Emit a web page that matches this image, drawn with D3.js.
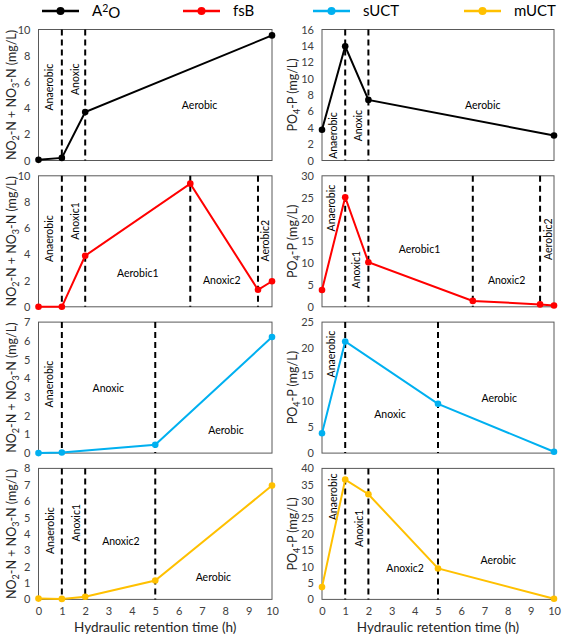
<!DOCTYPE html>
<html>
<head>
<meta charset="utf-8">
<script src="https://cdn.jsdelivr.net/npm/d3@7"></script>
<style>
  body { margin: 0; background: #fff; }
  svg text { font-family: Lato, "Liberation Sans", sans-serif; }
</style>
</head>
<body>
<svg id="chart" width="567" height="640"></svg>
<script>
// --- data
const seriesNames = ['A²O', 'fsB', 'sUCT', 'mUCT']
const seriesColors = ['#000000', '#ff0000', '#00b0f0', '#ffc000']

const a2oTime = [0, 1, 2, 10]
const a2oNOx = [0.05, 0.2, 3.7, 9.55]
const a2oPO4 = [3.75, 13.95, 7.4, 3.05]
const a2oPhases = [1, 2]

const fsbTime = [0, 1, 2, 6.5, 9.4, 10]
const fsbNOx = [0, 0, 3.9, 9.4, 1.3, 1.95]
const fsbPO4 = [3.85, 25.1, 10.2, 1.35, 0.55, 0.3]
const fsbPhases = [1, 2, 6.5, 9.4]

const suctTime = [0, 1, 5, 10]
const suctNOx = [0, 0.03, 0.45, 6.2]
const suctPO4 = [3.8, 21.3, 9.4, 0.25]
const suctPhases = [1, 5]

const muctTime = [0, 1, 2, 5, 10]
const muctNOx = [0.05, 0.03, 0.16, 1.15, 6.95]
const muctPO4 = [3.75, 36.6, 32.1, 9.45, 0.2]
const muctPhases = [1, 2, 5]

const nMax = [10, 10, 7, 8]
const nStep = [2, 2, 1, 1]
const pMax = [16, 30, 25, 40]
const pStep = [2, 5, 5, 5]
const xTicks = [0, 1, 2, 3, 4, 5, 6, 7, 8, 9, 10]

// phase labels: [text, hour, value, rotated]
const a2oNLabels = [['Anaerobic', 0.47, 5.6, 1], ['Anoxic', 1.56, 6.2, 1], ['Aerobic', 6.9, 4.25, 0]]
const a2oPLabels = [['Anaerobic', 0.49, 3.05, 1], ['Anoxic', 1.56, 4.26, 1], ['Aerobic', 6.93, 6.75, 0]]
const fsbNLabels = [['Anaerobic', 0.47, 5.2, 1], ['Anoxic1', 1.56, 6.55, 1], ['Aerobic1', 4.25, 2.57, 0],
  ['Anoxic2', 7.85, 2.0, 0], ['Aerobic2', 9.73, 5.04, 1]]
const fsbPLabels = [['Anaerobic', 0.42, 22.6, 1], ['Anoxic1', 1.5, 8.5, 1], ['Aerobic1', 4.2, 13.2, 0],
  ['Anoxic2', 7.96, 6.0, 0], ['Aerobic2', 9.75, 15.5, 1]]
const suctNLabels = [['Anaerobic', 0.46, 3.69, 1], ['Anoxic', 2.99, 3.46, 0], ['Aerobic', 8.03, 1.22, 0]]
const suctPLabels = [['Anaerobic', 0.39, 18.9, 1], ['Anoxic', 2.93, 7.44, 0], ['Aerobic', 7.64, 10.4, 0]]
const muctNLabels = [['Anaerobic', 0.49, 4.2, 1], ['Anoxic1', 1.63, 4.68, 1], ['Anoxic2', 3.53, 3.54, 0],
  ['Aerobic', 7.49, 1.34, 0]]
const muctPLabels = [['Anaerobic', 0.49, 31.3, 1], ['Anoxic1', 1.6, 21.7, 1], ['Anoxic2', 3.58, 9.5, 0],
  ['Aerobic', 7.6, 12, 0]]

const times = [a2oTime, fsbTime, suctTime, muctTime]
const nVals = [a2oNOx, fsbNOx, suctNOx, muctNOx]
const pVals = [a2oPO4, fsbPO4, suctPO4, muctPO4]
const phases = [a2oPhases, fsbPhases, suctPhases, muctPhases]
const nLabels = [a2oNLabels, fsbNLabels, suctNLabels, muctNLabels]
const pLabels = [a2oPLabels, fsbPLabels, suctPLabels, muctPLabels]

// --- layout
const svg = d3.select('#chart')
const rowTop = (i) => 29.5 + i * 146.3
const panelH = 131
const cols = [{x0: 38.5, x1: 272}, {x0: 322, x1: 554}]
const tickColor = '#404040'

// subscripted axis titles: shift down for a subscript, back up after it
const addSub = (text, parts) => {
  let shifted = false
  parts.forEach(([s, sub]) => {
    const t = text.append('tspan').text(s)
    if (sub) {
      t.attr('font-size', 9).attr('dy', 3)
      shifted = true
    } else if (shifted) {
      t.attr('dy', -3)
      shifted = false
    }
  })
}

const drawPanel = (row, col) => {
  const {x0, x1} = cols[col]
  const top = rowTop(row)
  const bottom = top + panelH
  const ymax = col === 0 ? nMax[row] : pMax[row]
  const step = col === 0 ? nStep[row] : pStep[row]
  const vals = col === 0 ? nVals[row] : pVals[row]
  const labels = col === 0 ? nLabels[row] : pLabels[row]
  const color = seriesColors[row]

  const x = d3.scaleLinear().domain([0, 10]).range([x0, x1])
  const y = d3.scaleLinear().domain([0, ymax]).range([bottom, top])
  const g = svg.append('g')

  // frame
  g.append('rect')
    .attr('x', x0).attr('y', top)
    .attr('width', x1 - x0).attr('height', panelH)
    .attr('fill', 'none').attr('stroke', '#595959').attr('stroke-width', 1)

  // y axis
  const yAxis = g.append('g')
    .attr('transform', `translate(${x0},0)`)
    .call(d3.axisLeft(y)
      .tickValues(d3.range(0, ymax + step / 2, step))
      .tickFormat(d3.format('d'))
      .tickSize(0).tickPadding(8))
  yAxis.select('.domain').remove()
  yAxis.selectAll('text').attr('font-size', 11).attr('fill', tickColor)

  // x axis only under the bottom row
  if (row === 3) {
    const xAxis = g.append('g')
      .attr('transform', `translate(0,${bottom})`)
      .call(d3.axisBottom(x).tickValues(xTicks).tickFormat(d3.format('d')).tickSize(0).tickPadding(8))
    xAxis.select('.domain').remove()
    xAxis.selectAll('text').attr('font-size', 11).attr('fill', tickColor)
    g.append('text')
      .attr('x', (x0 + x1) / 2).attr('y', 632)
      .attr('text-anchor', 'middle').attr('font-size', 13.5).attr('fill', '#262626')
      .text('Hydraulic retention time (h)')
  }

  // y title
  const title = g.append('text')
    .attr('transform', `translate(${col === 0 ? 16 : 297},${(top + bottom) / 2}) rotate(-90)`)
    .attr('text-anchor', 'middle').attr('font-size', 12.5).attr('fill', '#262626')
  if (col === 0) addSub(title, [['NO'], ['2', 1], ['-N + NO'], ['3', 1], ['-N (mg/L)']])
  else addSub(title, [['PO'], ['4', 1], ['-P (mg/L)']])

  // phase boundaries
  g.selectAll('.phase')
    .data(phases[row])
    .join('line')
    .attr('x1', (d) => x(d)).attr('x2', (d) => x(d))
    .attr('y1', top).attr('y2', bottom)
    .attr('stroke', '#000').attr('stroke-width', 2)
    .attr('stroke-dasharray', '6,4')

  // phase names
  g.selectAll('.lab')
    .data(labels)
    .join('text')
    .attr('transform', (d) => `translate(${x(d[1])},${y(d[2])})` + (d[3] ? ' rotate(-90)' : ''))
    .attr('text-anchor', 'middle').attr('dy', '0.35em')
    .attr('font-size', 10.5).attr('fill', '#000')
    .text((d) => d[0])

  // series
  const pts = times[row].map((t, i) => [t, vals[i]])
  g.append('path')
    .datum(pts)
    .attr('fill', 'none').attr('stroke', color).attr('stroke-width', 2)
    .attr('d', d3.line().x((d) => x(d[0])).y((d) => y(d[1])))
  g.selectAll('.pt')
    .data(pts)
    .join('circle')
    .attr('cx', (d) => x(d[0])).attr('cy', (d) => y(d[1]))
    .attr('r', 3.3).attr('fill', color)
}

for (let r = 0; r < 4; r++) {
  drawPanel(r, 0)
  drawPanel(r, 1)
}

// --- legend across the top
const legendX = [42, 183, 313, 464]
const legend = svg.append('g')
seriesNames.forEach((name, i) => {
  const lx = legendX[i]
  legend.append('line')
    .attr('x1', lx).attr('x2', lx + 37).attr('y1', 11).attr('y2', 11)
    .attr('stroke', seriesColors[i]).attr('stroke-width', 2.5)
  legend.append('circle')
    .attr('cx', lx + 18.5).attr('cy', 11).attr('r', 4).attr('fill', seriesColors[i])
  const t = legend.append('text')
    .attr('x', lx + 50).attr('y', 16)
    .attr('font-size', 15).attr('fill', '#000')
  if (i === 0) {
    t.append('tspan').text('A')
    t.append('tspan').text('2').attr('font-size', '0.7em').attr('dy', '-0.4em')
    t.append('tspan').text('O').attr('dy', '0.4em')
  } else t.text(name)
})
</script>
</body>
</html>
